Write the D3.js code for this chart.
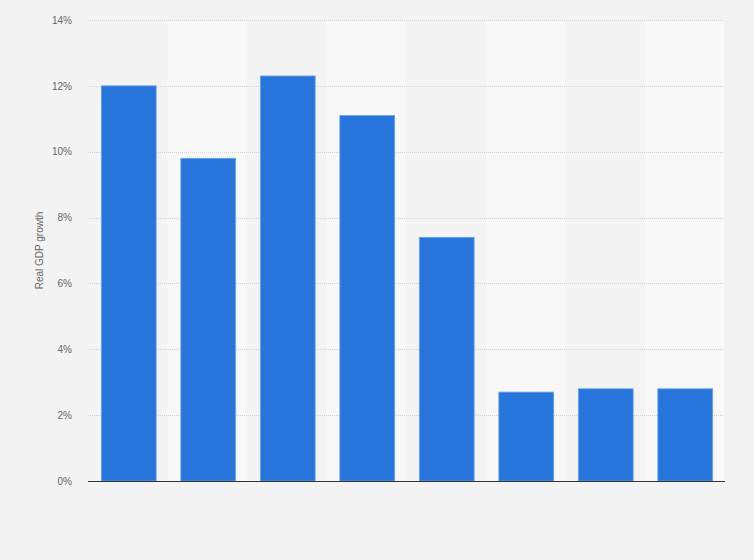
<!DOCTYPE html>
<html>
<head>
<meta charset="utf-8">
<script src="https://cdn.jsdelivr.net/npm/d3@7/dist/d3.min.js"></script>
<style>
  html, body { margin: 0; padding: 0; background: #f3f3f3; }
  svg { display: block; font-family: "Liberation Sans", Arial, sans-serif; }
</style>
</head>
<body>
<svg id="chart" width="754" height="560"></svg>
<script>
// Data (x-axis labels are not shown in the reference)
const categories = ["A", "B", "C", "D", "E", "F", "G", "H"];
const growthValues = [12.0, 9.8, 12.3, 11.1, 7.4, 2.7, 2.8, 2.8];
const yTicks = [0, 2, 4, 6, 8, 10, 12, 14];
const yTitle = "Real GDP growth";

const W = 754, H = 560;
const margin = { top: 20, right: 30, bottom: 79, left: 88 };
const svg = d3.select("#chart");
svg.append("rect").attr("width", W).attr("height", H).attr("fill", "#f3f3f3");

const x = d3.scaleBand()
  .domain(categories)
  .range([margin.left, W - margin.right])
  .paddingInner(0.31)
  .paddingOuter(0.155);

const y = d3.scaleLinear()
  .domain([0, 14])
  .range([H - margin.bottom, margin.top]);

const step = x.step();
const gap = step * x.paddingInner();

// alternating background bands
svg.append("g").selectAll("rect")
  .data(categories)
  .join("rect")
  .attr("x", d => x(d) - gap / 2)
  .attr("y", y(14))
  .attr("width", step)
  .attr("height", y(0) - y(14))
  .attr("fill", (d, i) => i % 2 === 1 ? "#f8f8f8" : "#f3f3f3");

// gridlines
svg.append("g").selectAll("line")
  .data(yTicks.filter(t => t > 0))
  .join("line")
  .attr("x1", margin.left)
  .attr("x2", W - margin.right)
  .attr("y1", d => Math.round(y(d)) + 0.5)
  .attr("y2", d => Math.round(y(d)) + 0.5)
  .attr("stroke", "#d4d4d4")
  .attr("stroke-width", 1)
  .attr("stroke-dasharray", "1,1");

// y axis tick labels
const yAxis = d3.axisLeft(y)
  .tickValues(yTicks)
  .tickFormat(d => d + "%")
  .tickSize(0)
  .tickPadding(0);
const gy = svg.append("g")
  .attr("transform", `translate(${margin.left - 16},0)`)
  .call(yAxis);
gy.select(".domain").remove();
gy.selectAll("text")
  .attr("fill", "#666")
  .attr("font-size", "10px")
  .attr("font-family", "'Liberation Sans', Arial, sans-serif");

// y axis title
svg.append("text")
  .attr("transform", `translate(43,${(y(0) + y(14)) / 2}) rotate(-90)`)
  .attr("text-anchor", "middle")
  .attr("fill", "#666")
  .attr("font-size", "10px")
  .text(yTitle);

// bars
svg.append("g")
  .attr("transform", "translate(1,0)")
  .selectAll("rect")
  .data(categories.map((c, i) => ({ c, v: growthValues[i] })))
  .join("rect")
  .attr("x", d => x(d.c))
  .attr("y", d => y(d.v))
  .attr("width", x.bandwidth())
  .attr("height", d => y(0) - y(d.v))
  .attr("fill", "#2775db")
  .attr("stroke", "#6fa3e8")
  .attr("stroke-width", 0.8);

// baseline
svg.append("line")
  .attr("x1", margin.left)
  .attr("x2", W - margin.right + 1)
  .attr("y1", y(0) + 0.5)
  .attr("y2", y(0) + 0.5)
  .attr("stroke", "#333")
  .attr("stroke-width", 1.2);
</script>
</body>
</html>
